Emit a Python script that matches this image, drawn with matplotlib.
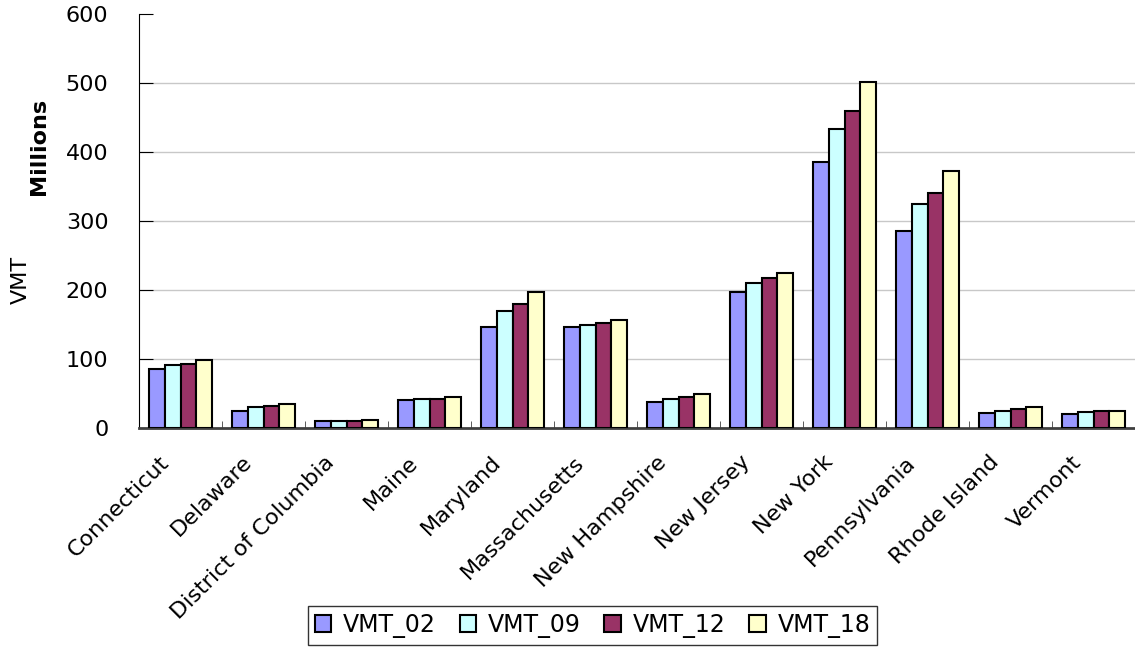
import numpy as np
import matplotlib.pyplot as plt
from matplotlib.transforms import ScaledTranslation

plt.rcParams['font.family'] = ['DejaVu Sans']

states = ['Connecticut', 'Delaware', 'District of Columbia', 'Maine', 'Maryland',
          'Massachusetts', 'New Hampshire', 'New Jersey', 'New York', 'Pennsylvania',
          'Rhode Island', 'Vermont']
vmt_02 = [85, 25, 10, 40, 146, 146, 37, 197, 385, 286, 22, 20]
vmt_09 = [91, 30, 10, 42, 169, 149, 42, 210, 433, 325, 25, 23]
vmt_12 = [93, 32, 10, 42, 180, 152, 45, 218, 459, 340, 28, 25]
vmt_18 = [98, 35, 12, 45, 197, 156, 50, 225, 502, 373, 30, 25]

series = [('VMT_02', vmt_02, '#9999FF'),
          ('VMT_09', vmt_09, '#CCFFFF'),
          ('VMT_12', vmt_12, '#993366'),
          ('VMT_18', vmt_18, '#FFFFCC')]

fig = plt.figure(figsize=(11.35, 6.5), dpi=100)
ax = fig.add_axes([0.1225, 0.3415, 0.8775, 0.637])

x = np.arange(len(states))
w = 0.19
for i, (name, vals, col) in enumerate(series):
    ax.bar(x + (i - 1.5) * w, vals, w, color=col, edgecolor='black',
           linewidth=1.5, label=name, zorder=3)

ax.set_xlim(-0.5, len(states) - 0.5)
ax.set_ylim(0, 600)
ax.set_yticks(range(0, 601, 100))
for y in range(100, 600, 100):
    ax.axhline(y, color='#c8c8c8', linewidth=1, zorder=1)

# category labels drawn as text so they can be nudged like the original
ax.set_xticks(x)
ax.set_xticklabels([])
shift = ScaledTranslation(-0.22, -0.24, fig.dpi_scale_trans)
for xi, name in zip(x, states):
    ax.text(xi, 0, name, transform=ax.get_xaxis_transform() + shift,
            rotation=45, ha='right', va='top', rotation_mode='anchor', fontsize=16)
ax.set_xticks(np.arange(-0.5, len(states)), minor=True)
ax.tick_params(axis='x', which='major', length=0)
ax.tick_params(axis='x', which='minor', direction='in', length=5, color='#404040')
ax.tick_params(axis='y', direction='in', length=10, labelsize=16, pad=22)

for s in ['top', 'right']:
    ax.spines[s].set_visible(False)
ax.spines['left'].set_color('black')
ax.spines['bottom'].set_color('#404040')
ax.spines['bottom'].set_linewidth(2)

fig.text(0.018, 0.569, 'VMT', rotation=90, fontsize=16, ha='center', va='center')
fig.text(0.034, 0.774, 'Millions', rotation=90, fontsize=16, fontweight='bold',
         ha='center', va='center')

leg = fig.legend(loc='center', bbox_to_anchor=(0.522, 0.038), ncol=4, fontsize=17,
                 frameon=True, fancybox=False, edgecolor='black', handlelength=0.7,
                 handleheight=0.7, handletextpad=0.5, columnspacing=1.0,
                 borderpad=0.3)
leg.get_frame().set_linewidth(1)

fig.savefig('out.png', dpi=100)
